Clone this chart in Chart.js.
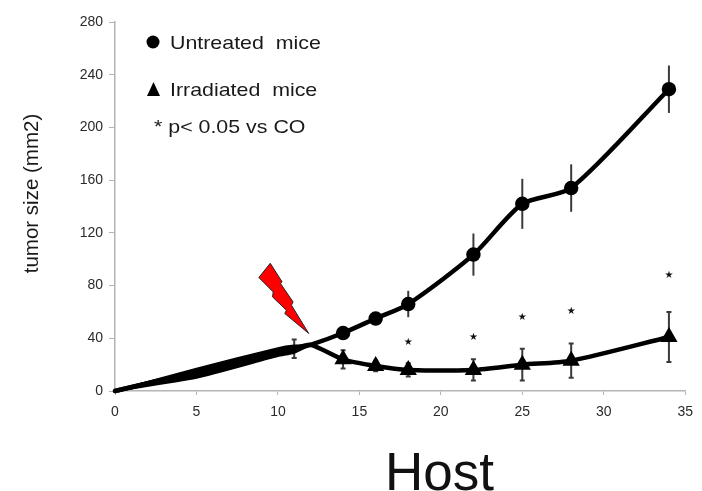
<!DOCTYPE html>
<html><head><meta charset="utf-8">
<script src="https://cdn.jsdelivr.net/npm/chart.js@4"></script>
<style>html,body{margin:0;padding:0;background:#fff}#w{width:702px;height:491px;overflow:hidden}canvas{display:block;filter:blur(0.6px)}</style>
</head><body><div id="w"><canvas id="c" width="702" height="491"></canvas></div>
<script>
const days = [0, 11, 12, 14, 16, 18, 22, 25, 28, 34];
const untreated = [0, 32, 35, 44, 55, 66, 103.5, 142, 154, 229];
const irradiated = [0, 32, 35, 24, 19, 16, 16, 20, 23, 41];
const untreatedErr = [0, 0, 0, 3, 4, 10, 16, 19, 18, 18];
const irradiatedErr = [0, 7, 0, 7, 4, 5, 8, 12, 13, 19];
const noMarkerDays = [0, 11, 12];
const wedgeDays = [0, 5, 10, 11, 12];
const wedgeUpper = [0, 17, 32.5, 34.5, 35];
const wedgeLower = [0, 10, 26.5, 29, 35];
const starDays = [18, 22, 25, 28, 34];
const starValues = [37, 41, 56, 60.5, 88];
const boltX = [9.53, 10.26, 10.16, 10.93, 10.83, 11.89, 10.42, 10.52, 9.67, 9.71, 8.83];
const boltY = [96.9, 82.7, 81.5, 67.6, 65.1, 43.7, 58.8, 61.3, 71.4, 75.2, 86.1];
const xTicksMax = 35, yTicksMax = 280, xStep = 5, yStep = 40;
const legendItems = ["Untreated  mice", "Irradiated  mice"];
const noteText = "* p< 0.05 vs CO";
const yTitle = "tumor size (mm2)";
const captionText = "Host";
const FONT = '"Liberation Sans", Arial, sans-serif';

const pts = (xs, ys) => xs.map((x, i) => ({x, y: ys[i]}));
const radii = (r) => days.map(d => noMarkerDays.includes(d) ? 0 : r);

const overlay = {
  id: 'overlay',
  beforeDatasetsDraw(chart) {
    const {ctx, scales: {x, y}} = chart;
    ctx.save();
    ctx.strokeStyle = '#3a3a3a'; ctx.lineWidth = 2;
    [[untreated, untreatedErr, 0], [irradiated, irradiatedErr, 2.5]].forEach(([v, e, cap]) => {
      days.forEach((d, i) => {
        if (!e[i]) return;
        const px = x.getPixelForValue(d), t = y.getPixelForValue(v[i] + e[i]), b = y.getPixelForValue(v[i] - e[i]);
        ctx.beginPath();
        ctx.moveTo(px, t); ctx.lineTo(px, b);
        if (cap) {
          ctx.moveTo(px - cap, t); ctx.lineTo(px + cap, t);
          ctx.moveTo(px - cap, b); ctx.lineTo(px + cap, b);
        }
        ctx.stroke();
      });
    });
    ctx.restore();
  },
  afterDatasetsDraw(chart) {
    const {ctx, scales: {x, y}} = chart;
    ctx.save();
    // lightning bolt
    ctx.beginPath();
    boltX.forEach((b, i) => {
      const px = x.getPixelForValue(b), py = y.getPixelForValue(boltY[i]);
      i ? ctx.lineTo(px, py) : ctx.moveTo(px, py);
    });
    ctx.closePath();
    ctx.fillStyle = '#ff0000'; ctx.fill();
    ctx.strokeStyle = '#222'; ctx.lineWidth = 1; ctx.stroke();
    // significance stars
    ctx.fillStyle = '#111'; ctx.textAlign = 'center'; ctx.textBaseline = 'middle';
    ctx.font = '10px "DejaVu Sans"';
    starDays.forEach((d, i) => ctx.fillText('★', x.getPixelForValue(d), y.getPixelForValue(starValues[i])));
    // legend
    ctx.fillStyle = '#000';
    ctx.beginPath(); ctx.arc(153, 42, 6.5, 0, Math.PI * 2); ctx.fill();
    ctx.beginPath(); ctx.moveTo(153.5, 82); ctx.lineTo(160, 96); ctx.lineTo(147, 96); ctx.closePath(); ctx.fill();
    ctx.textAlign = 'left'; ctx.textBaseline = 'alphabetic';
    ctx.fillStyle = '#1a1a1a';
    ctx.font = '18.5px ' + FONT;
    const wideText = (s, tx, ty) => {
      ctx.save(); ctx.translate(tx, ty); ctx.scale(1.155, 1); ctx.fillText(s, 0, 0); ctx.restore();
    };
    wideText(legendItems[0], 170, 49);
    wideText(legendItems[1], 170, 96);
    wideText(noteText, 154, 133);
    // caption
    ctx.fillStyle = '#111';
    ctx.font = '53px ' + FONT;
    ctx.fillText(captionText, 385, 490);
    // y axis title
    ctx.translate(38, 193.5);
    ctx.rotate(-Math.PI / 2);
    ctx.textAlign = 'center';
    ctx.fillStyle = '#1a1a1a';
    ctx.font = '20.5px ' + FONT;
    ctx.fillText(yTitle, 0, 0);
    ctx.restore();
  }
};

const lineDs = (label, data, style, r) => ({
  label, data, showLine: true, borderColor: '#000', backgroundColor: '#000', borderWidth: 4.5,
  borderCapStyle: 'round', tension: 0.25, pointStyle: style, pointRadius: r,
  pointBackgroundColor: '#000', pointBorderColor: '#000'
});

new Chart(document.getElementById('c'), {
  type: 'scatter',
  data: { datasets: [
    {label: 'wedge upper', data: pts(wedgeDays, wedgeUpper), showLine: true, borderColor: '#000', borderWidth: 2, pointRadius: 0, tension: 0.2, fill: '+1', backgroundColor: '#000'},
    {label: 'wedge lower', data: pts(wedgeDays, wedgeLower), showLine: true, borderColor: '#000', borderWidth: 2, pointRadius: 0, tension: 0.2},
    lineDs(legendItems[0], pts(days, untreated), 'circle', radii(5)),
    lineDs(legendItems[1], pts(days, irradiated), 'triangle', radii(5.5))
  ]},
  options: {
    responsive: false, animation: false, devicePixelRatio: 1, clip: false,
    layout: {padding: {left: 0, right: 16, top: 22, bottom: 0}},
    plugins: {legend: {display: false}, tooltip: {enabled: false}},
    scales: {
      x: {
        type: 'linear', min: 0, max: xTicksMax,
        afterFit(s) { s.height = 100; },
        border: {color: '#b4b4b4', width: 1.5},
        grid: {drawOnChartArea: false, color: '#b4b4b4', tickLength: 4},
        ticks: {stepSize: xStep, color: '#2a2a2a', padding: 9, maxRotation: 0, font: {family: FONT, size: 14}}
      },
      y: {
        min: 0, max: yTicksMax,
        afterFit(s) { s.width = 115; },
        border: {color: '#b4b4b4', width: 1.5},
        grid: {drawOnChartArea: false, color: '#b4b4b4', tickLength: 6},
        ticks: {stepSize: yStep, color: '#2a2a2a', padding: 6, font: {family: FONT, size: 14}}
      }
    }
  },
  plugins: [overlay]
});
</script></body></html>
